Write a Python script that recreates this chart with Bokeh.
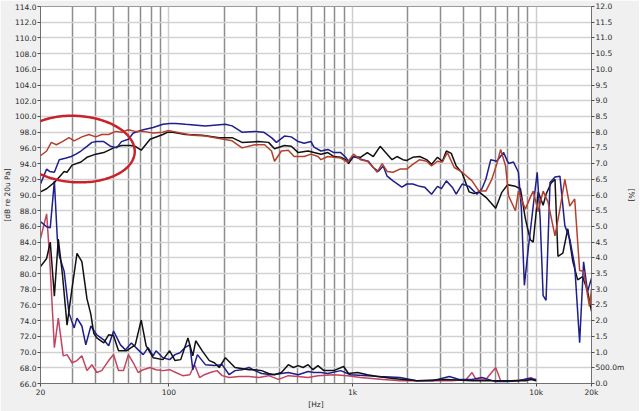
import numpy as np
from bokeh.plotting import figure
from bokeh.models import (Range1d, LinearAxis, FixedTicker, PrintfTickFormatter,
                          Grid, PolyAnnotation)
from bokeh.embed import file_html
from bokeh.resources import INLINE

# ---------------- data ----------------
# Frequency responses (dB re 20uPa)
fr_black_f = [20, 21.6, 23.8, 24.7, 26.9, 27.9, 29.7, 33.2, 35.8, 40.0,
              44.2, 50.0, 55.2, 61.7, 65.6, 70.7, 79.0, 92.8, 98.7, 105,
              123, 152, 188, 221, 250, 308, 349, 376, 426, 464,
              506, 573, 617, 673, 734, 791, 862, 917, 951, 1012,
              1104, 1204, 1297, 1414, 1543, 1641, 1746, 1880, 1975, 2128,
              2320, 2531, 2692, 2900, 3085, 3241, 3448, 3667, 3951, 4309,
              4584, 4877, 5385, 6020, 6483, 6982, 7708, 8203, 8727, 9283,
              9632, 10250, 10905, 11316, 12038, 12652, 13132, 13968, 14859, 15806,
              16815, 17890, 19026, 20000]
fr_black_db = [90.4, 90.8, 91.6, 92.0, 93.0, 92.9, 93.8, 94.2, 94.8, 95.2,
               95.4, 96.0, 96.3, 96.3, 96.2, 95.7, 97.1, 97.7, 98.0, 98.0,
               97.7, 97.6, 97.3, 97.3, 96.7, 96.8, 96.7, 95.9, 96.3, 96.2,
               95.4, 95.6, 95.4, 95.2, 95.4, 94.9, 94.8, 94.5, 94.0, 94.9,
               94.8, 95.4, 94.9, 96.2, 95.2, 94.5, 94.9, 94.5, 94.4, 94.8,
               94.9, 94.5, 93.9, 94.8, 94.3, 95.6, 95.3, 93.7, 92.8, 90.4,
               90.2, 90.4, 89.6, 88.3, 90.3, 91.3, 91.1, 90.8, 87.0, 84.3,
               84.0, 90.4, 88.7, 90.1, 91.5, 92.0, 82.2, 82.6, 85.7, 81.6,
               79.2, 79.6, 77.8, 75.2]

fr_blue_f = [20, 21.6, 22.4, 23.8, 25.3, 27.6, 29.4, 31.2, 33.2, 35.8,
             38.1, 40.5, 44.2, 48.2, 51.9, 55.2, 60.2, 64.0, 72.5, 82.1,
             92.8, 101, 109, 123, 158, 203, 221, 250, 294, 328,
             362, 385, 426, 464, 506, 545, 594, 617, 673, 734,
             791, 862, 917, 951, 1012, 1132, 1219, 1297, 1380, 1468,
             1543, 1661, 1857, 1975, 2128, 2320, 2469, 2692, 2900, 3047,
             3241, 3491, 3667, 3951, 4309, 4757, 5062, 5319, 5658, 6095,
             6645, 7069, 7520, 8002, 8305, 8620, 9059, 9632, 10124, 10506,
             10905, 11316, 11890, 12652, 13460, 14317, 15230, 16202, 17237, 18113,
             19026, 20000]
fr_blue_db = [91.4, 93.3, 93.0, 92.9, 94.5, 94.7, 94.9, 95.2, 95.6, 96.2,
              96.7, 96.8, 96.8, 96.2, 96.0, 96.8, 97.1, 97.9, 98.3, 98.6,
              99.0, 99.1, 99.1, 99.0, 98.8, 99.0, 98.8, 98.0, 98.1, 98.0,
              97.3, 96.7, 97.5, 97.4, 96.8, 96.6, 96.8, 96.1, 95.6, 95.8,
              95.4, 95.4, 94.8, 94.3, 94.9, 94.5, 94.3, 93.5, 93.0, 93.7,
              92.4, 91.8, 91.0, 91.4, 91.4, 91.1, 91.0, 90.1, 91.1, 90.8,
              91.8, 91.0, 90.1, 91.4, 91.1, 90.1, 90.8, 92.0, 94.5, 94.3,
              95.4, 94.0, 94.2, 92.9, 88.2, 78.5, 83.2, 88.6, 92.9, 87.0,
              77.2, 76.6, 91.6, 92.3, 92.4, 86.1, 84.4, 81.0, 71.2, 81.5,
              77.7, 79.4]

fr_red_f = [20, 21.6, 22.9, 24.4, 26.3, 28.6, 30.5, 33.6, 36.7, 40.0,
            43.1, 47.0, 51.3, 55.2, 60.2, 65.6, 72.5, 82.1, 92.8, 98.7,
            105, 116, 135, 158, 188, 221, 250, 294, 332, 362,
            376, 410, 447, 481, 545, 594, 648, 673, 734, 791,
            862, 940, 1012, 1104, 1204, 1297, 1363, 1450, 1543, 1661,
            1812, 1975, 2128, 2320, 2531, 2692, 2900, 3085, 3282, 3578,
            3951, 4473, 4877, 5319, 5728, 6095, 6404, 6812, 7069, 7708,
            8002, 8305, 8727, 9283, 9632, 10250, 10905, 11599, 12652, 13460,
            14317, 15230, 16202, 17237, 18113, 19500, 20000]
fr_red_db = [95.0, 95.6, 96.7, 96.4, 96.8, 97.3, 96.9, 97.4, 97.7, 97.4,
             97.7, 97.7, 98.1, 98.0, 98.3, 98.1, 98.1, 97.9, 98.0, 98.2,
             98.1, 97.9, 97.6, 97.5, 97.2, 96.9, 96.0, 96.4, 96.4, 95.6,
             94.3, 95.6, 95.7, 94.9, 94.9, 95.2, 94.9, 94.5, 94.9, 94.8,
             94.7, 94.2, 95.2, 94.5, 94.3, 93.5, 92.9, 94.0, 93.0, 92.9,
             93.3, 93.3, 93.9, 94.5, 94.3, 93.7, 94.3, 94.2, 95.4, 93.5,
             92.9, 91.8, 90.5, 90.5, 92.0, 93.9, 95.8, 93.7, 89.9, 88.0,
             90.5, 89.5, 88.2, 89.7, 90.5, 87.9, 90.5, 89.1, 84.8, 88.2,
             92.0, 88.6, 89.5, 80.4, 80.3, 75.8, 78.0]

# Distortion (%)
thd_black_f = [20, 21.6, 22.6, 23.8, 25.0, 26.3, 27.9, 29.7, 31.6, 33.6,
               35.8, 37.6, 39.0, 40.5, 44.2, 47.0, 50.0, 53.2, 58.7, 65.6,
               70.7, 75.2, 82.1, 92.8, 101, 108, 116, 127, 135, 140,
               152, 166, 177, 188, 203, 229, 273, 294, 320, 349,
               376, 410, 447, 476, 506, 538, 573, 609, 648, 698,
               791, 894, 951, 1064, 1204, 1363, 1661, 2236, 3241, 4473,
               6247, 8727, 9397, 10000]
thd_black_pct = [3.72, 3.98, 4.5, 2.78, 4.6, 3.5, 1.86, 3.03, 4.14, 3.88,
                 2.7, 2.2, 1.6, 1.45, 1.29, 1.55, 1.52, 1.04, 1.04, 1.23,
                 2.02, 1.20, 0.82, 0.76, 1.04, 0.73, 0.76, 1.45, 0.88, 1.36,
                 1.04, 0.73, 0.66, 0.51, 0.82, 0.51, 0.44, 0.44, 0.41, 0.32,
                 0.28, 0.35, 0.60, 0.51, 0.57, 0.51, 0.60, 0.44, 0.57, 0.41,
                 0.41, 0.54, 0.32, 0.35, 0.28, 0.22, 0.16, 0.09, 0.13, 0.09,
                 0.09, 0.09, 0.13, 0.09]

thd_blue_f = [20, 21.6, 22.6, 23.8, 24.7, 25.3, 26.9, 28.6, 30.5, 31.6,
              33.6, 35.3, 37.6, 40.5, 44.2, 47.0, 50.0, 54.5, 58.0, 62.5,
              68.1, 72.5, 77.1, 82.1, 85.1, 92.8, 101, 108, 115, 122,
              130, 135, 143, 158, 177, 195, 213, 229, 250, 273,
              294, 320, 362, 410, 447, 506, 573, 617, 673, 734,
              862, 975, 1204, 1414, 1812, 2236, 2726, 3364, 3808, 4473,
              5062, 6020, 6812, 8002, 9059, 10000]
thd_blue_pct = [5.15, 4.99, 4.96, 6.44, 4.61, 4.07, 3.57, 2.24, 1.77, 2.08,
                1.83, 1.23, 1.83, 1.55, 1.39, 1.20, 1.67, 1.23, 1.07, 1.29,
                1.07, 0.92, 1.14, 0.88, 1.04, 0.82, 0.76, 0.92, 0.98, 1.14,
                1.23, 0.44, 0.92, 0.60, 0.57, 0.60, 0.28, 0.41, 0.44, 0.51,
                0.41, 0.32, 0.28, 0.32, 0.35, 0.28, 0.38, 0.35, 0.35, 0.32,
                0.41, 0.28, 0.25, 0.22, 0.19, 0.09, 0.09, 0.22, 0.13, 0.13,
                0.19, 0.06, 0.06, 0.09, 0.16, 0.13]

thd_red_f = [20, 21.6, 22.4, 23.8, 25.0, 26.6, 27.9, 29.7, 31.6, 33.6,
             35.8, 38.1, 40.5, 43.1, 47.0, 50.0, 53.2, 56.6, 60.2, 64.0,
             68.1, 72.5, 79.0, 85.1, 92.8, 101, 109, 119, 130, 138,
             147, 156, 168, 183, 195, 213, 241, 273, 309, 349,
             395, 447, 506, 573, 648, 791, 940, 1104, 1468, 1812,
             2726, 3491, 4151, 4473, 4700, 5319, 6020, 6404, 7336, 8727,
             9397, 10000]
thd_red_pct = [4.61, 5.40, 4.07, 1.14, 2.08, 0.88, 0.92, 0.66, 0.73, 0.88,
               0.41, 0.60, 0.35, 0.41, 0.73, 0.92, 0.41, 0.41, 0.92, 0.66,
               0.35, 0.44, 0.51, 0.44, 0.41, 0.44, 0.35, 0.25, 0.28, 0.60,
               0.19, 0.28, 0.35, 0.41, 0.25, 0.19, 0.22, 0.22, 0.19, 0.25,
               0.13, 0.25, 0.22, 0.19, 0.25, 0.28, 0.25, 0.19, 0.13, 0.09,
               0.09, 0.09, 0.13, 0.35, 0.13, 0.13, 0.51, 0.09, 0.09, 0.13,
               0.19, 0.09]

# Axis ticks / labels
db_ticks = [66 + 2 * i for i in range(25)]
pct_ticks = [0.5 * i for i in range(25)]
freq_ticks = [20, 100, 1000, 10000, 20000]
freq_labels = ["20", "100", "1k", "10k", "20k"]
minor_freqs = [30, 40, 50, 60, 70, 80, 90,
               200, 300, 400, 500, 600, 700, 800, 900,
               2000, 3000, 4000, 5000, 6000, 7000, 8000, 9000]
decade_freqs = [100, 1000, 10000]

# ---------------- figure ----------------
FONT = "DejaVu Sans"
p = figure(frame_width=551, frame_height=377, x_axis_type="log",
           x_range=Range1d(20, 20000), y_range=Range1d(66, 114),
           output_backend="svg", toolbar_location=None,
           background_fill_color="white", border_fill_color="#f0f0f0",
           min_border_left=0, min_border_right=0, min_border_top=6,
           min_border_bottom=0)
p.extra_y_ranges = {"pct": Range1d(0, 12)}
p.outline_line_color = "#9a9a9a"


def style_axis(ax):
    ax.major_label_text_font = FONT
    ax.major_label_text_font_size = "7.5px"
    ax.major_label_text_color = "#2a2a2a"
    ax.axis_label_text_font = FONT
    ax.axis_label_text_font_size = "7.5px"
    ax.axis_label_text_font_style = "normal"
    ax.axis_label_text_color = "#2a2a2a"
    ax.axis_line_color = "#707070"
    ax.major_tick_line_color = "#505050"
    ax.major_tick_out = 3
    ax.major_tick_in = 0
    ax.minor_tick_line_color = None
    ax.major_label_standoff = 1
    ax.axis_label_standoff = 0


# x axis
xa = p.xaxis[0]
xa.ticker = FixedTicker(ticks=freq_ticks)
xa.major_label_overrides = {t: l for t, l in zip(freq_ticks, freq_labels)}
xa.axis_label = "[Hz]"
style_axis(xa)

# left axis
ya = p.yaxis[0]
ya.ticker = FixedTicker(ticks=db_ticks)
ya.formatter = PrintfTickFormatter(format="%.1f")
ya.axis_label = "[dB re 20u Pa]"
style_axis(ya)

# right axis (%)
ra = LinearAxis(y_range_name="pct", ticker=FixedTicker(ticks=pct_ticks),
                formatter=PrintfTickFormatter(format="%.1f"), axis_label="[%]")
ra.major_label_overrides = {0.5: "500.0m"}
style_axis(ra)
p.add_layout(ra, "right")

# grids
p.ygrid.ticker = FixedTicker(ticks=db_ticks)
p.ygrid.grid_line_color = "#d2d2d2"
p.ygrid.grid_line_width = 1.3
p.xgrid.ticker = FixedTicker(ticks=minor_freqs)
p.xgrid.grid_line_color = "#8c8c8c"
p.xgrid.grid_line_width = 1.5
p.add_layout(Grid(dimension=0, ticker=FixedTicker(ticks=decade_freqs),
                  grid_line_color="#cdcdcd", grid_line_width=1.5))

# distortion curves (right axis)
p.line(thd_red_f, thd_red_pct, y_range_name="pct", line_color="#c2445e", line_width=1.5)
p.line(thd_blue_f, thd_blue_pct, y_range_name="pct", line_color="#1e1e8c", line_width=1.5)
p.line(thd_black_f, thd_black_pct, y_range_name="pct", line_color="#111111", line_width=1.5)

# frequency responses
p.line(fr_black_f, fr_black_db, line_color="#111111", line_width=1.5)
p.line(fr_blue_f, fr_blue_db, line_color="#1e1e8c", line_width=1.5)
p.line(fr_red_f, fr_red_db, line_color="#b3402c", line_width=1.5)

# red highlight ellipse around the low-frequency region (about 31 Hz, 95.8 dB)
t = np.linspace(0, 2 * np.pi, 180)
ell_f = 10 ** (np.log10(31.2) + 0.32 * np.cos(t))
ell_db = 95.85 + 4.23 * np.sin(t) - 0.3 * np.cos(t)
p.add_layout(PolyAnnotation(xs=list(ell_f), ys=list(ell_db),
                            fill_alpha=0, line_alpha=1.0,
                            line_color="#c8232b", line_width=2.5))

open("out.html", "w").write(file_html(p, INLINE))
